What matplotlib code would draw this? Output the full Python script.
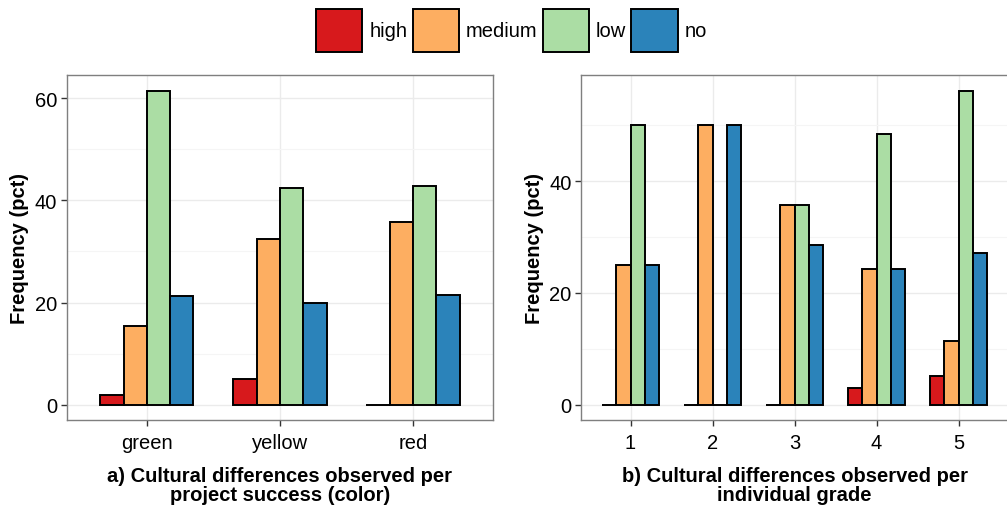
import numpy as np
import matplotlib
matplotlib.use("Agg")
import matplotlib.pyplot as plt
from matplotlib.patches import Patch

plt.rcParams['font.family'] = ['Liberation Sans', 'DejaVu Sans']

levels = ["high", "medium", "low", "no"]
colors = ["#D7191C", "#FDAE61", "#ABDDA4", "#2B83BA"]

# panel a: per project success colour
success = ["green", "yellow", "red"]
success_high = [1.9, 5.0, 0.0]
success_medium = [15.4, 32.5, 35.7]
success_low = [61.5, 42.5, 42.9]
success_no = [21.2, 20.0, 21.4]

# panel b: per individual grade
grades = ["1", "2", "3", "4", "5"]
grade_high = [0.0, 0.0, 0.0, 3.0, 5.2]
grade_medium = [25.0, 50.0, 35.7, 24.2, 11.4]
grade_low = [50.0, 0.0, 35.7, 48.5, 56.2]
grade_no = [25.0, 50.0, 28.6, 24.2, 27.1]

FS = 14.5
dodge = 0.7


def draw_panel(ax, cats, series, xlabel, yticks):
    x = np.arange(1, len(cats) + 1)
    w = dodge / len(series)
    for k, (vals, col) in enumerate(zip(series, colors)):
        pos = x - dodge / 2 + w * (k + 0.5)
        ax.bar(pos, vals, width=w, color=col, edgecolor="black",
               linewidth=1.4, zorder=3)
    top = max(max(s) for s in series)
    ax.set_xlim(0.4, len(cats) + 0.6)
    ax.set_ylim(-0.05 * top, 1.05 * top)
    ax.set_xticks(x)
    ax.set_xticklabels(cats)
    ax.set_yticks(yticks)
    ax.set_yticks([t + 10 for t in yticks if t + 10 < 1.05 * top], minor=True)
    ax.grid(which="major", color="#EBEBEB", linewidth=1.0, zorder=0)
    ax.grid(which="minor", axis="y", color="#F5F5F5", linewidth=0.8, zorder=0)
    ax.tick_params(axis="both", which="major", labelsize=FS, length=4,
                   width=1.0, color="#333333", pad=3)
    ax.tick_params(axis="x", which="major", pad=5)
    ax.tick_params(axis="both", which="minor", length=0)
    for sp in ax.spines.values():
        sp.set_color("#7F7F7F")
        sp.set_linewidth(1.0)
    ax.set_axisbelow(True)
    ax.set_ylabel("Frequency (pct)", fontsize=FS, fontweight="bold", labelpad=4)
    ax.set_xlabel(xlabel, fontsize=FS, fontweight="bold", labelpad=10,
                  linespacing=1.0)


fig = plt.figure(figsize=(10.07, 5.06), dpi=100)
ax1 = fig.add_axes([0.0665, 0.1674, 0.423, 0.6824])
ax2 = fig.add_axes([0.5773, 0.1674, 0.4234, 0.6824])

draw_panel(ax1, success, [success_high, success_medium, success_low, success_no],
           "a) Cultural differences observed per\nproject success (color)",
           [0, 20, 40, 60])
draw_panel(ax2, grades, [grade_high, grade_medium, grade_low, grade_no],
           "b) Cultural differences observed per\nindividual grade",
           [0, 20, 40])

handles = [Patch(facecolor=c, edgecolor="black", linewidth=1.4) for c in colors]
fig.legend(handles, levels, loc="center", bbox_to_anchor=(0.508, 0.938),
           ncol=4, frameon=False, fontsize=FS, handlelength=2.3,
           handleheight=2.9, handletextpad=0.35, columnspacing=0.25,
           borderpad=0.0)

fig.savefig("out.png", dpi=100)
